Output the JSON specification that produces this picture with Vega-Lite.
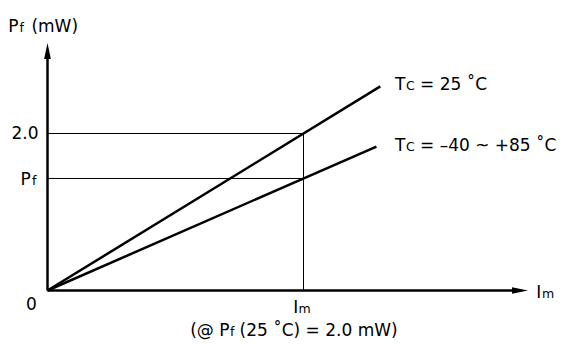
{
  "$schema": "https://vega.github.io/schema/vega-lite/v6.json",
  "width": 564,
  "height": 345,
  "autosize": {"type": "fit", "contains": "padding"},
  "padding": 0,
  "background": "white",
  "config": {"view": {"stroke": null}},
  "datasets": {
    "thick": [
      {"x": 0, "y": 0, "x2": 0, "y2": 3.04},
      {"x": 0, "y": 0, "x2": 1.84, "y2": 0},
      {"x": 0, "y": 0, "x2": 1.30, "y2": 2.60},
      {"x": 0, "y": 0, "x2": 1.285, "y2": 1.834}
    ],
    "thin": [
      {"x": 0, "y": 2.0, "x2": 1, "y2": 2.0},
      {"x": 0, "y": 1.427, "x2": 1, "y2": 1.427},
      {"x": 1, "y": 0, "x2": 1, "y2": 2.0}
    ],
    "upArrow": [{"x": 0, "y": 3.051}],
    "rightArrow": [{"x": 1.8457, "y": 0}],
    "mainLeft": [
      {"x": -0.1531, "y": 3.297, "text": "P"},
      {"x": -0.0629, "y": 3.297, "text": "(mW)"},
      {"x": -0.1055, "y": 1.344, "text": "P"},
      {"x": 1.3574, "y": 2.548, "text": "T"},
      {"x": 1.455, "y": 2.548, "text": "= 25 ˚C"},
      {"x": 1.3574, "y": 1.783, "text": "T"},
      {"x": 1.455, "y": 1.783, "text": "= –40 ~ +85 ˚C"},
      {"x": 0.9602, "y": -0.2904, "text": "I"},
      {"x": 0.5574, "y": -0.5758, "text": "(@ P"},
      {"x": 0.75, "y": -0.5758, "text": "(25 ˚C) = 2.0 mW)"},
      {"x": 1.9094, "y": -0.0917, "text": "I"}
    ],
    "mainRight": [
      {"x": -0.0352, "y": 1.926, "text": "2.0"}
    ],
    "mainCenter": [
      {"x": -0.0625, "y": -0.2484, "text": "0"}
    ],
    "subs": [
      {"x": -0.1094, "y": 3.297, "text": "f"},
      {"x": -0.0605, "y": 1.344, "text": "f"},
      {"x": 1.4004, "y": 2.548, "text": "C"},
      {"x": 1.4004, "y": 1.783, "text": "C"},
      {"x": 0.9805, "y": -0.2904, "text": "m"},
      {"x": 0.7129, "y": -0.5758, "text": "f"},
      {"x": 1.9316, "y": -0.0917, "text": "m"}
    ]
  },
  "encoding": {
    "x": {"field": "x", "type": "quantitative", "scale": {"domain": [-0.18555, 2.01758], "nice": false, "zero": false}, "axis": null},
    "y": {"field": "y", "type": "quantitative", "scale": {"domain": [-0.69427, 3.70064], "nice": false, "zero": false}, "axis": null}
  },
  "layer": [
    {
      "data": {"name": "thin"},
      "mark": {"type": "rule", "color": "black", "strokeWidth": 1},
      "encoding": {"x2": {"field": "x2"}, "y2": {"field": "y2"}}
    },
    {
      "data": {"name": "thick"},
      "mark": {"type": "rule", "color": "black", "strokeWidth": 2.5, "strokeCap": "butt"},
      "encoding": {"x2": {"field": "x2"}, "y2": {"field": "y2"}}
    },
    {
      "data": {"name": "upArrow"},
      "mark": {"type": "point", "shape": "M0,-1L0.42,1L-0.42,1Z", "size": 256, "filled": true, "color": "black", "opacity": 1, "strokeWidth": 0}
    },
    {
      "data": {"name": "rightArrow"},
      "mark": {"type": "point", "shape": "M1,0L-1,-0.42L-1,0.42Z", "size": 256, "filled": true, "color": "black", "opacity": 1, "strokeWidth": 0}
    },
    {
      "data": {"name": "mainLeft"},
      "mark": {"type": "text", "font": "DejaVu Sans", "fontSize": 17, "align": "left", "baseline": "alphabetic", "color": "black"},
      "encoding": {"text": {"field": "text"}}
    },
    {
      "data": {"name": "mainRight"},
      "mark": {"type": "text", "font": "DejaVu Sans", "fontSize": 17, "align": "right", "baseline": "alphabetic", "color": "black"},
      "encoding": {"text": {"field": "text"}}
    },
    {
      "data": {"name": "mainCenter"},
      "mark": {"type": "text", "font": "DejaVu Sans", "fontSize": 17, "align": "center", "baseline": "alphabetic", "color": "black"},
      "encoding": {"text": {"field": "text"}}
    },
    {
      "data": {"name": "subs"},
      "mark": {"type": "text", "font": "DejaVu Sans", "fontSize": 12.5, "align": "left", "baseline": "alphabetic", "color": "black"},
      "encoding": {"text": {"field": "text"}}
    }
  ]
}
